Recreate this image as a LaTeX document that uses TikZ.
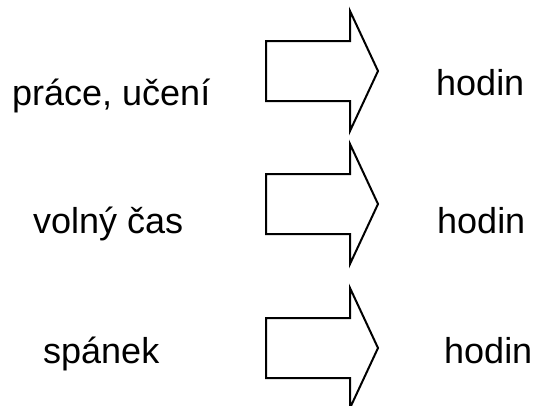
\documentclass[tikz,border=0pt]{standalone}
\usepackage{fontspec}
\setmainfont{Liberation Sans}

\begin{document}
\begin{tikzpicture}[x=1pt,y=-1pt,
		activity node/.style={anchor=base west,inner sep=0pt,font=\fontsize{36}{43}\selectfont},
		hours node/.style={anchor=base west,inner sep=0pt,font=\fontsize{36}{43}\selectfont},
		block arrow/.pic={
			\draw[line width=2pt,line join=miter]
				(0,-30) -- (84,-30) -- (84,-60) -- (112,0) -- (84,60) -- (84,30) -- (0,30) -- cycle;}]
	\useasboundingbox (0,0) rectangle (536,405);
	\node[activity node] (work) at (12,105) {práce, učení};
	\node[activity node] (free) at (33,233) {volný čas};
	\node[activity node] (sleep) at (43,363) {spánek};
	%
	% Block arrows between activities and hours.
	\pic (arrowA) at (266,71) {block arrow};
	\pic (arrowB) at (266,204) {block arrow};
	\pic (arrowC) at (266,348) {block arrow};
	%
	\node[hours node] (workh) at (436,95) {hodin};
	\node[hours node] (freeh) at (437,233) {hodin};
	\node[hours node] (sleeph) at (444,363) {hodin};
\end{tikzpicture}
\end{document}
